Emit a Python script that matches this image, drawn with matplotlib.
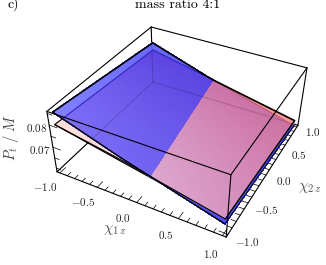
import numpy as np
import matplotlib
matplotlib.use('Agg')
import matplotlib.pyplot as plt
from matplotlib.collections import PolyCollection
from matplotlib.patches import Polygon

plt.rcParams['mathtext.fontset'] = 'cm'
plt.rcParams['font.family'] = ['cmr10', 'DejaVu Serif']
plt.rcParams['axes.formatter.use_mathtext'] = True

# data
chi_grid = [-1.0, -0.2, 1.0]
# P_t/M on chi2=-1 and chi2=+1 edges
blue_low = [0.0852, 0.0755, 0.0626]
blue_high = [0.0793, 0.0701, 0.0585]
pink_low = [0.0798, 0.0745, 0.0649]
pink_high = [0.0758, 0.0699, 0.0610]

chi_ticks = [-1.0, -0.5, 0.0, 0.5, 1.0]
chi_labels = [r'$-1.0$', r'$-0.5$', r'$0.0$', r'$0.5$', r'$1.0$']
chi_minor = [-0.9, -0.8, -0.7, -0.6, -0.4, -0.3, -0.2, -0.1, 0.1, 0.2, 0.3, 0.4, 0.6, 0.7, 0.8, 0.9]
p_ticks = [0.07, 0.08]
p_labels = [r'$0.07$', r'$0.08$']
p_minor = [0.06, 0.065, 0.075, 0.085]

chi_lo, chi_hi = -1.04, 1.04
p_lo, p_hi = 0.0582, 0.0859

# camera: box corners -> where they sit in the picture, solved at run time
box = [(chi_lo, chi_lo, p_lo), (chi_hi, chi_lo, p_lo), (chi_hi, chi_hi, p_lo), (chi_lo, chi_hi, p_lo),
       (chi_lo, chi_lo, p_hi), (chi_hi, chi_lo, p_hi), (chi_hi, chi_hi, p_hi), (chi_lo, chi_hi, p_hi)]
screen = [(57, 172), (226, 237), (298, 125), (153, 82), (47, 111), (231, 175), (307, 68), (151, 27)]


def scale_p(p):
    return (np.asarray(p) - 0.07) * 70


rows, rhs = [], []
for (a, b, c), (u, v) in zip(box, screen):
    c = scale_p(c)
    rows.append([a, b, c, 1, 0, 0, 0, 0, -u * a, -u * b, -u * c])
    rows.append([0, 0, 0, 0, a, b, c, 1, -v * a, -v * b, -v * c])
    rhs += [u, v]
cam = np.linalg.lstsq(np.array(rows, float), np.array(rhs, float), rcond=None)[0]
cam = np.append(cam, 1.0).reshape(3, 4)


def proj(a, b, p):
    a, b, c = np.broadcast_arrays(a, b, scale_p(p))
    w = cam[2, 0] * a + cam[2, 1] * b + cam[2, 2] * c + cam[2, 3]
    x = (cam[0, 0] * a + cam[0, 1] * b + cam[0, 2] * c + cam[0, 3]) / w
    y = (cam[1, 0] * a + cam[1, 1] * b + cam[1, 2] * c + cam[1, 3]) / w
    return x, y


def surf(low, high, a, b):
    t = (np.asarray(b) + 1) / 2
    return np.interp(a, chi_grid, low) * (1 - t) + np.interp(a, chi_grid, high) * t


def pt(low, high, a, b):
    x, y = proj(a, b, surf(low, high, a, b))
    return float(x), float(y)


def crossing(low1, low2):
    s = np.linspace(-1, 1, 801)
    d = np.interp(s, chi_grid, low1) - np.interp(s, chi_grid, low2)
    return s[np.argmin(np.abs(d))]


def meet(p1, p2, p3, p4):
    p1, p2, p3, p4 = map(np.array, (p1, p2, p3, p4))
    m = np.array([p2 - p1, p3 - p4]).T
    t = np.linalg.solve(m, p3 - p1)[0]
    return tuple(p1 + t * (p2 - p1))


# painter's order: each thing drawn goes on top of the last one
order = [1]


def next_z():
    order[0] += 1
    return order[0]


def mesh(low, high, cols, clip=None):
    # cols: colours at (-1,-1), (1,-1), (-1,1), (1,1)
    n = 40
    s = np.linspace(-1, 1, n + 1)
    cols = np.array(cols) / 255
    polys, face = [], []
    for i in range(n):
        for j in range(n):
            q = [(s[i], s[j]), (s[i + 1], s[j]), (s[i + 1], s[j + 1]), (s[i], s[j + 1])]
            polys.append([pt(low, high, a, b) for a, b in q])
            u, v = (s[i] + 1 / n + 1) / 2, (s[j] + 1 / n + 1) / 2
            col = cols[0] * (1 - u) * (1 - v) + cols[1] * u * (1 - v) + cols[2] * (1 - u) * v + cols[3] * u * v
            face.append(np.clip(col, 0, 1))
    pc = PolyCollection(polys, facecolors=face, edgecolors=face, linewidths=0.5, antialiaseds=False, zorder=next_z())
    ax.add_collection(pc)
    if clip is not None:
        pc.set_clip_path(Polygon(clip, transform=ax.transData))


def line(pts, **kw):
    ax.plot([q[0] for q in pts], [q[1] for q in pts], solid_capstyle='round', zorder=next_z(), **kw)


fig = plt.figure(figsize=(3.26, 2.65), dpi=100)
ax = fig.add_axes([0, 0, 1, 1])
ax.set_xlim(0, 326)
ax.set_ylim(265, 0)
ax.axis('off')

c0, c1, c2, c3, c4, c5, c6, c7 = [proj(*b) for b in box]
c0, c1, c2, c3, c4, c5, c6, c7 = [(float(a), float(b)) for a, b in (c0, c1, c2, c3, c4, c5, c6, c7)]
back = [(c3, c0), (c3, c2), (c3, c7)]

for e in back:
    line(e, color='k', lw=0.8)

# ticks
for v in chi_ticks + chi_minor:
    ln = 0.1 if v in chi_ticks else 0.06
    x, y = proj([v, v], [chi_lo, chi_lo + ln], p_lo)
    ax.plot(x, y, color='k', lw=0.5, zorder=next_z())
    x, y = proj([chi_hi, chi_hi - ln], [v, v], p_lo)
    ax.plot(x, y, color='k', lw=0.5, zorder=next_z())
for v in p_ticks + p_minor:
    ln = 0.1 if v in p_ticks else 0.06
    x, y = proj([chi_lo, chi_lo + ln], [chi_lo, chi_lo], v)
    ax.plot(x, y, color='k', lw=0.5, zorder=next_z())

# key points of the two sheets
a_cross = crossing(blue_high, pink_high)
b_cross = crossing(blue_low, pink_low)
A = pt(blue_high, blue_high, a_cross, 1)
B = pt(blue_low, blue_low, b_cross, -1)
P00, P10 = pt(pink_low, pink_high, -1, -1), pt(pink_low, pink_high, 1, -1)
P01, P11 = pt(pink_low, pink_high, -1, 1), pt(pink_low, pink_high, 1, 1)
B00, B10 = pt(blue_low, blue_high, -1, -1), pt(blue_low, blue_high, 1, -1)
B01, B11 = pt(blue_low, blue_high, -1, 1), pt(blue_low, blue_high, 1, 1)
C = meet(P00, P01, B00, B)

# pink sheet alone
mesh(pink_low, pink_high, [(255, 222, 218)] * 4)
line([P00, P10], color='k', lw=0.9)
line([P00, P01], color='k', lw=0.8)

# blue sheet, lighter where no pink lies under it
mesh(blue_low, blue_high, [(130, 130, 255), (80, 80, 245), (105, 105, 250), (80, 80, 240)])
mesh(blue_low, blue_high, [(128, 112, 247), (105, 90, 240), (92, 66, 225), (90, 70, 225)], clip=[C, P01, A, B])

# pink over blue
mesh(pink_low, pink_high, [(230, 195, 225), (216, 150, 195), (200, 115, 175), (204, 112, 162)], clip=[A, P11, P10, B])
mesh(pink_low, pink_high, [(255, 150, 150)] * 4, clip=[A, P11, B11])

# edges seen through the sheets
for e in back:
    line(e, color='k', lw=0.7, alpha=0.18)
line([C, P01], color=(0.2, 0.15, 0.75), lw=0.8)
s = np.linspace(-1, a_cross, 10)
line([pt(pink_low, pink_high, v, 1) for v in s], color=(0.2, 0.15, 0.75), lw=0.8)
s = np.linspace(a_cross, 1, 10)
line([pt(blue_low, blue_high, v, 1) for v in s], color=(0.72, 0.35, 0.45), lw=0.8)

# outlines
s = np.linspace(-1, a_cross, 10)
line([B00, B01] + [pt(blue_low, blue_high, v, 1) for v in s], color='k', lw=1.2)
line([A, P11], color='k', lw=1.2)
line([P11, P10], color='k', lw=1.0)
line([B11, B10], color='k', lw=0.7)
s = np.linspace(-1, 1, 20)
line([pt(blue_low, blue_high, v, -1) for v in s], color='k', lw=1.0)
line([pt(pink_low, pink_high, v, -1) for v in s], color='k', lw=0.8)

# front of the box
for e in [(c4, c5), (c5, c6), (c4, c7), (c7, c6), (c6, c2), (c5, c1), (c4, c0), (c0, c1), (c1, c2)]:
    line(e, color='k', lw=0.8)

for v, t in zip(chi_ticks, chi_labels):
    x, y = proj(v, -1.3, p_lo)
    ax.text(x, y, t, fontsize=8, ha='center', va='center', color='#222222')
    x, y = proj(1.25, v, p_lo)
    ax.text(x, y, t, fontsize=8, ha='center', va='center', color='#222222')
for v, t in zip(p_ticks, p_labels):
    x, y = proj(chi_lo, chi_lo, v)
    ax.text(x - 13, y + 2.5, t, fontsize=8, ha='center', va='center', color='#222222')

ax.text(115, 230, r'$\chi_{1\,z}$', fontsize=11, ha='center', va='center', color='#555555')
ax.text(310, 188, r'$\chi_{2\,z}$', fontsize=11, ha='center', va='center', color='#555555')
ax.text(11, 137, r'$P_t\ /\ M$', fontsize=10.5, rotation=90, ha='center', va='center', color='#444444')

ax.text(7, 8, 'c)', fontsize=10, ha='left', va='baseline')
ax.text(178, 8, 'mass ratio 4:1', fontsize=10, ha='center', va='baseline')

plt.savefig('out.png', dpi=100)
